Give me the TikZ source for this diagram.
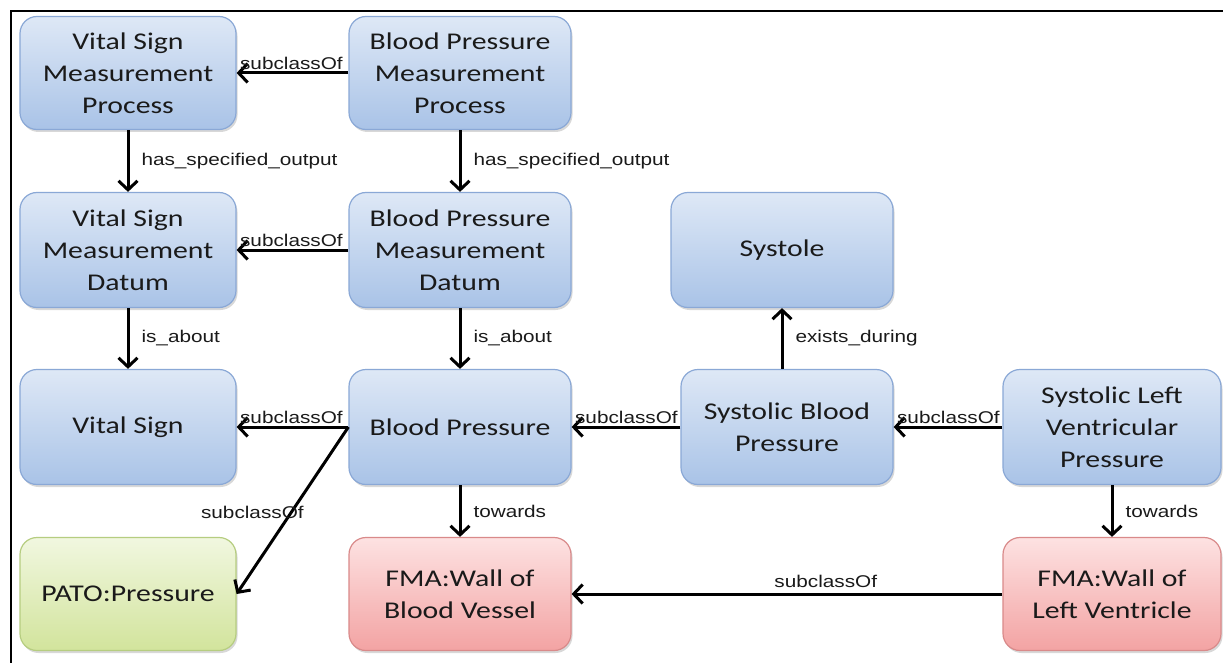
\documentclass[tikz,border=0pt]{standalone}
\usepackage{fontspec}
\newfontfamily\nodefont[FakeStretch=1.24]{Carlito}
\newfontfamily\labfont[FakeStretch=1.22]{Liberation Sans}
\usetikzlibrary{arrows.meta,shadows}
\definecolor{bluetop}{HTML}{DEE8F6}
\definecolor{bluebot}{HTML}{A9C3E7}
\definecolor{blueline}{HTML}{8AA8D6}
\definecolor{greentop}{HTML}{F1F7E0}
\definecolor{greenbot}{HTML}{D2E49C}
\definecolor{greenline}{HTML}{B6CD80}
\definecolor{redtop}{HTML}{FDE2E2}
\definecolor{redbot}{HTML}{F3A3A3}
\definecolor{redline}{HTML}{D98A8A}
\definecolor{txt}{HTML}{1A1A1A}
\begin{document}
\begin{tikzpicture}[x=1pt,y=-1pt,
  box/.style={rounded corners=17pt, line width=1.2pt, align=center,
    inner sep=0pt, minimum height=113pt, minimum width=216pt,
    font=\nodefont\fontsize{24}{32}\selectfont, text=txt,
    drop shadow={shadow xshift=1.5pt, shadow yshift=-2.5pt, opacity=0.3, fill=black!50}},
  bluebox/.style={box, draw=blueline, top color=bluetop, bottom color=bluebot},
  greenbox/.style={box, draw=greenline, top color=greentop, bottom color=greenbot},
  redbox/.style={box, draw=redline, top color=redtop, bottom color=redbot},
  rel/.style={line width=3pt, -{Straight Barb[length=9pt,width=19pt]}},
  lab/.style={font=\labfont\fontsize{17}{20}\selectfont, text=txt, inner sep=2pt},
  hlab/.style={lab, pos=1, anchor=south west},
  vlab/.style={lab, pos=0.5, right=10pt}
]
\useasboundingbox (0,0) rectangle (1223,663);
\fill[white] (0,0) rectangle (1223,663);
\draw[line width=2pt] (11,663) -- (11,11) -- (1223,11);

\node[bluebox] (vsmp) at (128,73) {Vital Sign\\Measurement\\Process};
\node[bluebox, minimum width=222pt] (bpmp) at (460,73) {Blood Pressure\\Measurement\\Process};
\node[bluebox, minimum height=115pt] (vsmd) at (128,250) {Vital Sign\\Measurement\\Datum};
\node[bluebox, minimum width=222pt, minimum height=115pt] (bpmd) at (460,250) {Blood Pressure\\Measurement\\Datum};
\node[bluebox, minimum width=222pt, minimum height=115pt] (sys) at (782,250) {Systole};
\node[bluebox, minimum height=115pt] (vs) at (128,427) {Vital Sign};
\node[bluebox, minimum width=222pt, minimum height=115pt] (bp) at (460,427) {Blood Pressure};
\node[bluebox, minimum width=212pt, minimum height=115pt] (sbp) at (787,427) {Systolic Blood\\Pressure};
\node[bluebox, minimum width=218pt, minimum height=115pt] (slvp) at (1112,427) {Systolic Left\\Ventricular\\Pressure};
\node[greenbox] (pato) at (128,594) {PATO:Pressure};
\node[redbox, minimum width=222pt] (fbv) at (460,594) {FMA:Wall of\\Blood Vessel};
\node[redbox, minimum width=218pt] (flv) at (1112,594) {FMA:Wall of\\Left Ventricle};

\draw[rel] (bpmp) -- (vsmp) node[hlab] {subclassOf};
\draw[rel] (vsmp) -- (vsmd) node[vlab] {has\_specified\_output};
\draw[rel] (bpmp) -- (bpmd) node[vlab] {has\_specified\_output};
\draw[rel] (bpmd) -- (vsmd) node[hlab] {subclassOf};
\draw[rel] (vsmd) -- (vs) node[vlab] {is\_about};
\draw[rel] (bpmd) -- (bp) node[vlab] {is\_about};
\draw[rel] (bp) -- (vs) node[hlab] {subclassOf};
\draw[rel] (bp.west) -- (pato.east) node[lab, pos=0.51, xshift=-39pt] {subclassOf};
\draw[rel] (bp) -- (fbv) node[vlab] {towards};
\draw[rel] (sbp) -- (bp) node[hlab] {subclassOf};
\draw[rel] (sbp.north -| sys.south) -- (sys.south) node[vlab] {exists\_during};
\draw[rel] (slvp) -- (sbp) node[hlab] {subclassOf};
\draw[rel] (slvp) -- (flv) node[vlab] {towards};
\draw[rel] (flv) -- (fbv) node[lab, pos=0.41, above=3pt] {subclassOf};
\end{tikzpicture}
\end{document}
